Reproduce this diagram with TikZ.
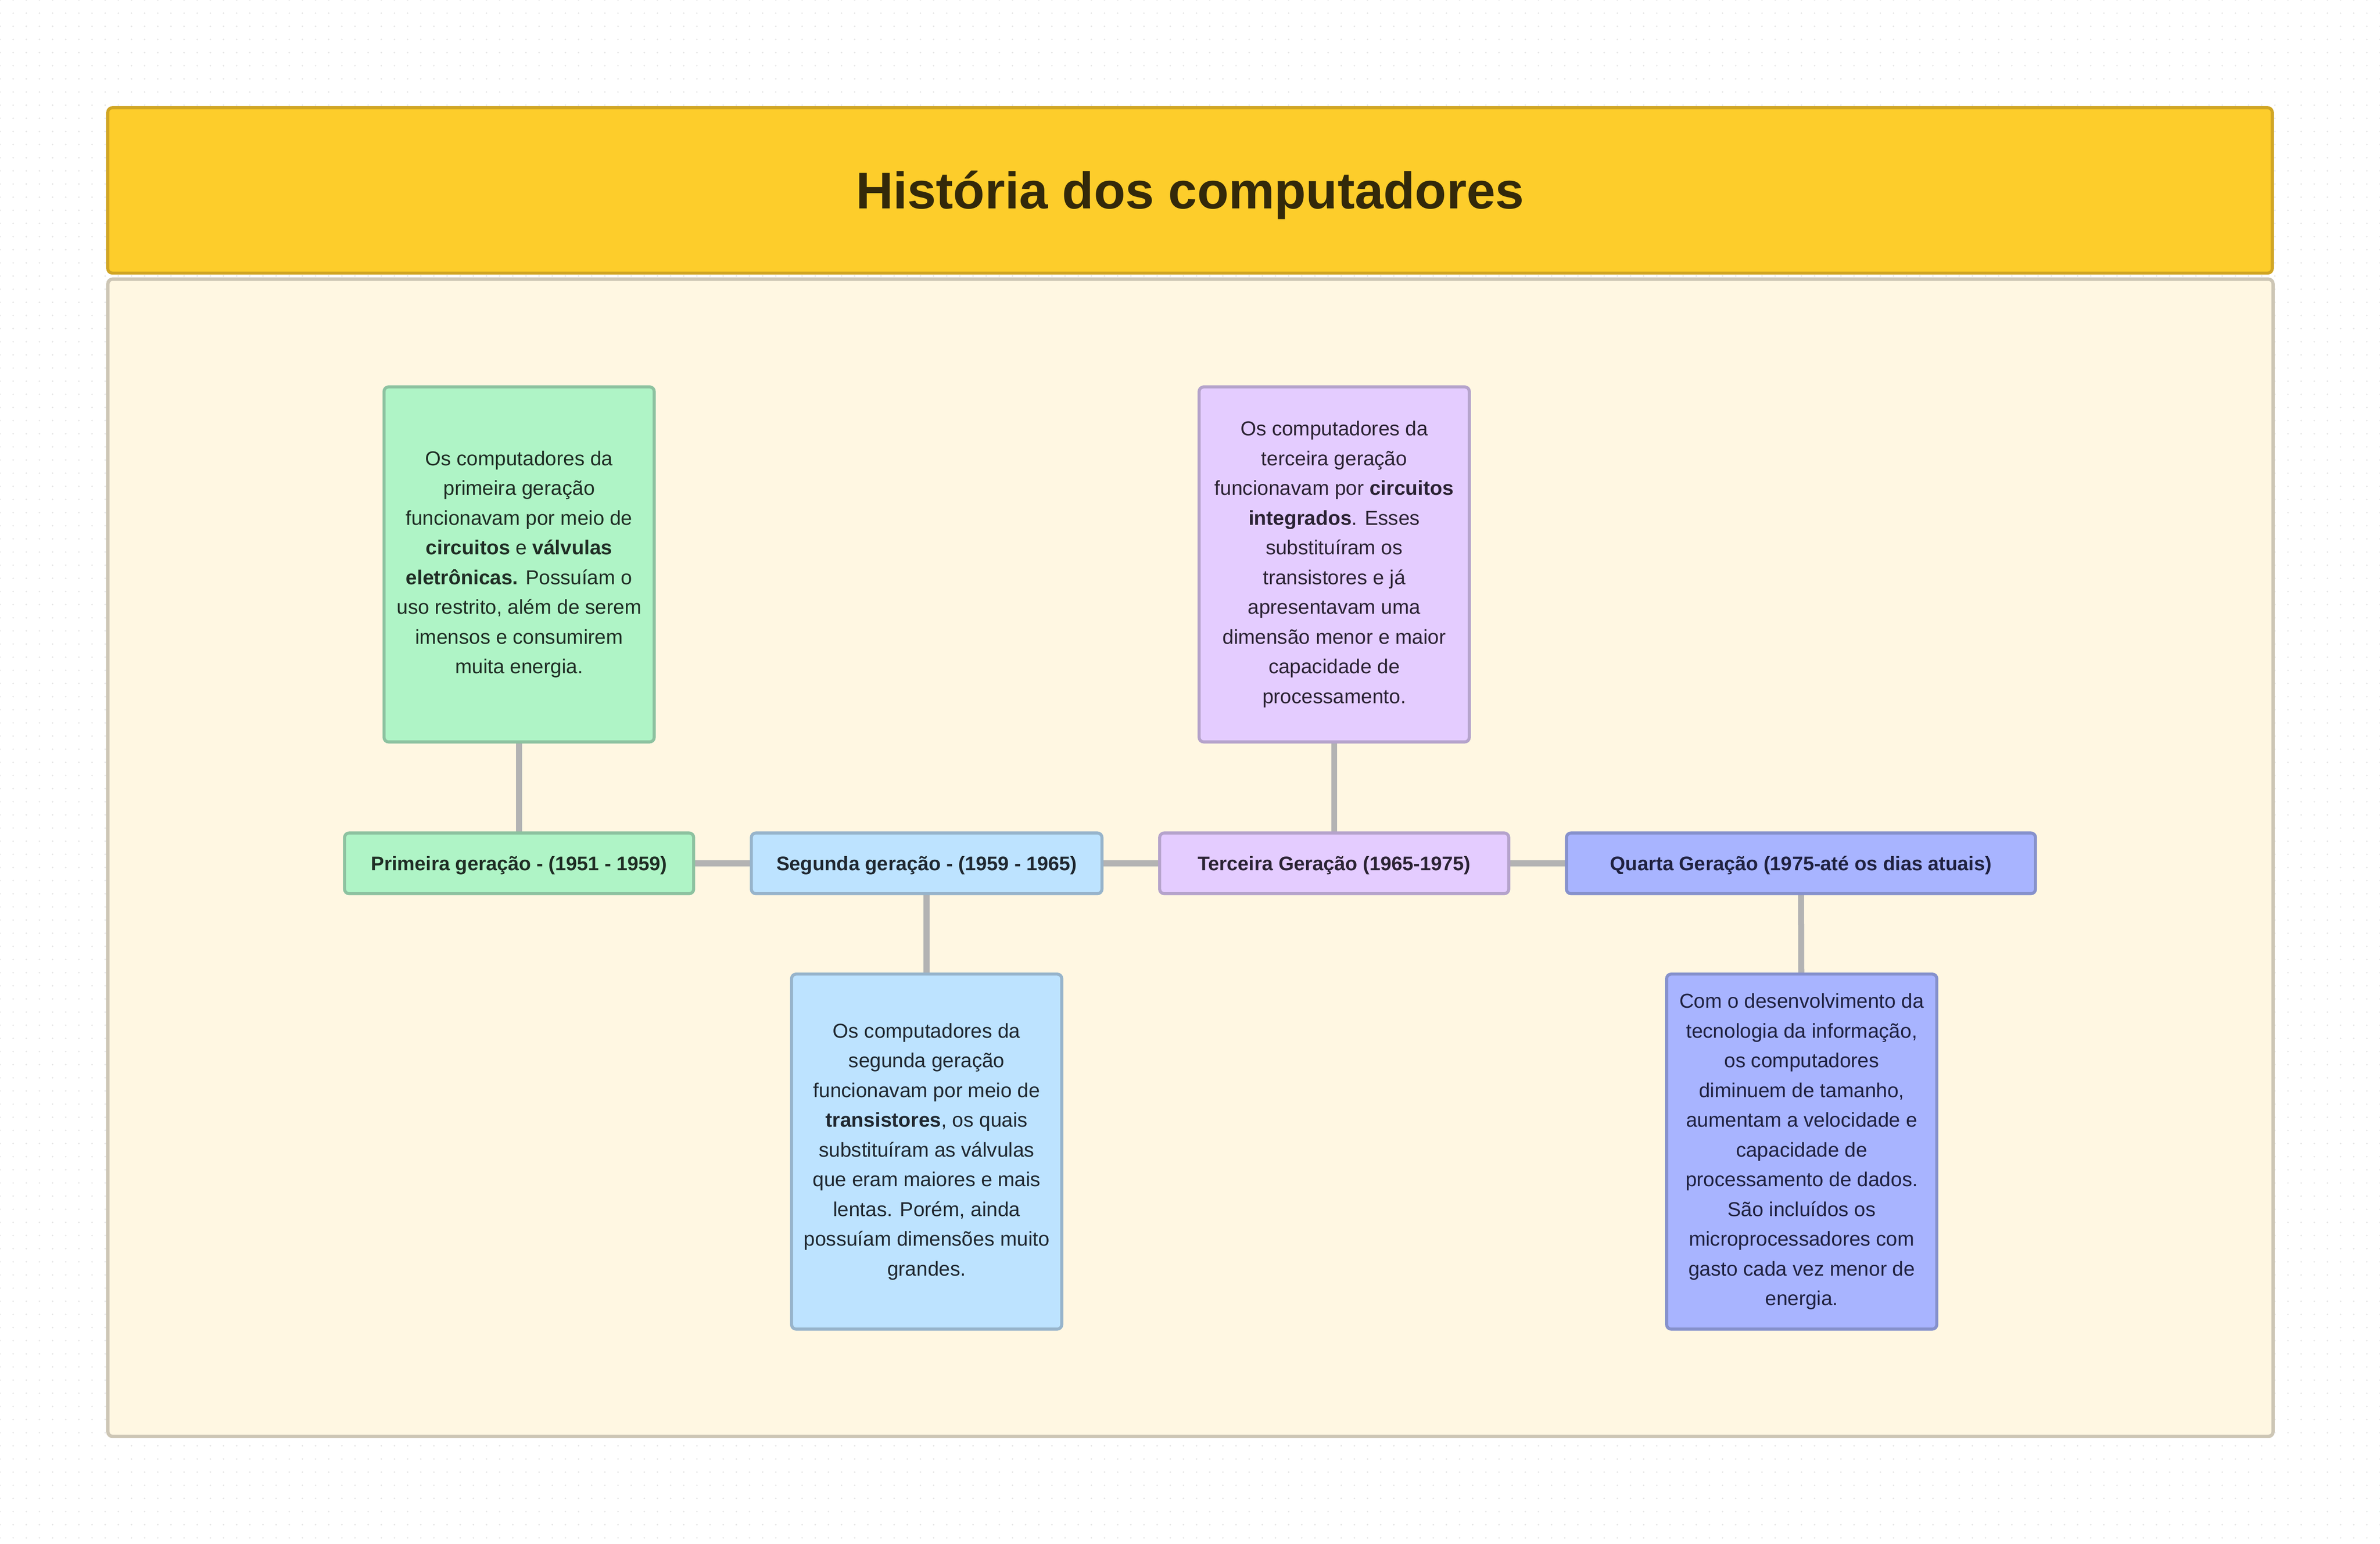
\documentclass[tikz,border=0pt]{standalone}
\usepackage{fontspec}
\setmainfont{Liberation Sans}
\usetikzlibrary{backgrounds}

\definecolor{dotgray}{HTML}{E4E4E4}
\definecolor{linkgray}{HTML}{B3B3B3}
\definecolor{titlefill}{HTML}{FDCD2B}
\definecolor{titleline}{HTML}{D0A524}
\definecolor{titletext}{HTML}{33290A}
\definecolor{framefill}{HTML}{FFF7E2}
\definecolor{frameline}{HTML}{CDC6B5}
\definecolor{greenfill}{HTML}{AFF4C6}
\definecolor{greenline}{HTML}{8DC2A0}
\definecolor{greentext}{HTML}{1F2D24}
\definecolor{bluefill}{HTML}{BDE3FF}
\definecolor{blueline}{HTML}{97B4CB}
\definecolor{bluetext}{HTML}{1F2730}
\definecolor{purplefill}{HTML}{E4CCFF}
\definecolor{purpleline}{HTML}{B5A3CB}
\definecolor{purpletext}{HTML}{2A2233}
\definecolor{indigofill}{HTML}{A8B4FF}
\definecolor{indigoline}{HTML}{8691CC}
\definecolor{indigotext}{HTML}{1F2140}

\begin{document}
\begin{tikzpicture}[x=1pt, y=-1pt,
  titlebox/.style={draw=titleline, fill=titlefill, text=titletext, line width=2pt, rounded corners=3pt,
    minimum width=1426pt, minimum height=109pt, inner sep=0pt, text height=24.3pt, text depth=0pt,
    font=\fontsize{34}{40}\selectfont\bfseries},
  bar/.style={draw, line width=2pt, rounded corners=3pt, minimum height=40pt, inner sep=0pt,
    text height=9.3pt, text depth=0pt, font=\fontsize{13}{16}\selectfont\bfseries},
  desc/.style={draw, line width=2pt, rounded corners=3pt, minimum width=178pt, minimum height=234pt,
    inner sep=0pt, align=center, font=\fontsize{13.3}{19.6}\selectfont},
  green/.style={fill=greenfill, draw=greenline, text=greentext},
  blue/.style={fill=bluefill, draw=blueline, text=bluetext},
  purple/.style={fill=purplefill, draw=purpleline, text=purpletext},
  indigo/.style={fill=indigofill, draw=indigoline, text=indigotext},
  link/.style={line width=4pt, draw=linkgray, line cap=round},
  dotrow/.style={line width=1.1pt, draw=dotgray, line cap=round, dash pattern=on 0pt off 8.663pt}]

  \useasboundingbox (0,0) rectangle (1568,1017.36);

  \node[titlebox] (T) at (784,125.5) {História dos computadores};

  \node[bar, green, minimum width=230pt] (A) at (342,569) {Primeira geração - (1951 - 1959)};
  \node[bar, blue, minimum width=231pt] (B) at (610.5,569) {Segunda geração - (1959 - 1965)};
  \node[bar, purple, minimum width=230pt] (C) at (879,569) {Terceira Geração (1965-1975)};
  \node[bar, indigo, minimum width=309pt] (D) at (1186.5,569) {Quarta Geração (1975-até os dias atuais)};

  \node[desc, green] (E) at (342,372) {Os computadores da\\ primeira geração\\ funcionavam por meio de\\
    \textbf{circuitos} e \textbf{válvulas}\\ \textbf{eletrônicas.} Possuíam o\\ uso restrito, além de serem\\
    imensos e consumirem\\ muita energia.};
  \node[desc, blue] (F) at (610.5,759) {Os computadores da\\ segunda geração\\ funcionavam por meio de\\
    \textbf{transistores}, os quais\\ substituíram as válvulas\\ que eram maiores e mais\\
    lentas. Porém, ainda\\ possuíam dimensões muito\\ grandes.};
  \node[desc, purple] (G) at (879,372) {Os computadores da\\ terceira geração\\ funcionavam por \textbf{circuitos}\\
    \textbf{integrados}. Esses\\ substituíram os\\ transistores e já\\ apresentavam uma\\
    dimensão menor e maior\\ capacidade de\\ processamento.};
  \node[desc, indigo] (H) at (1187,759) {Com o desenvolvimento da\\ tecnologia da informação,\\ os computadores\\
    diminuem de tamanho,\\ aumentam a velocidade e\\ capacidade de\\ processamento de dados.\\
    São incluídos os\\ microprocessadores com\\ gasto cada vez menor de\\ energia.};

  \begin{scope}[on background layer]
    \fill[white] (0,0) rectangle (1568,1017.36);
    \foreach \r in {0,...,117}
      \draw[dotrow] (0,\r*8.663) -- (1570,\r*8.663);
    \draw[frameline, fill=framefill, line width=2.2pt, rounded corners=3pt] (71.1,184) rectangle (1497.5,946.7);

    \draw[link] (A) -- (B);
    \draw[link] (B) -- (C);
    \draw[link] (C) -- (D);
    \draw[link] (E) -- (A);
    \draw[link] (B) -- (F);
    \draw[link] (G) -- (C);
    \draw[link] (D) -- (H);
  \end{scope}
\end{tikzpicture}
\end{document}
